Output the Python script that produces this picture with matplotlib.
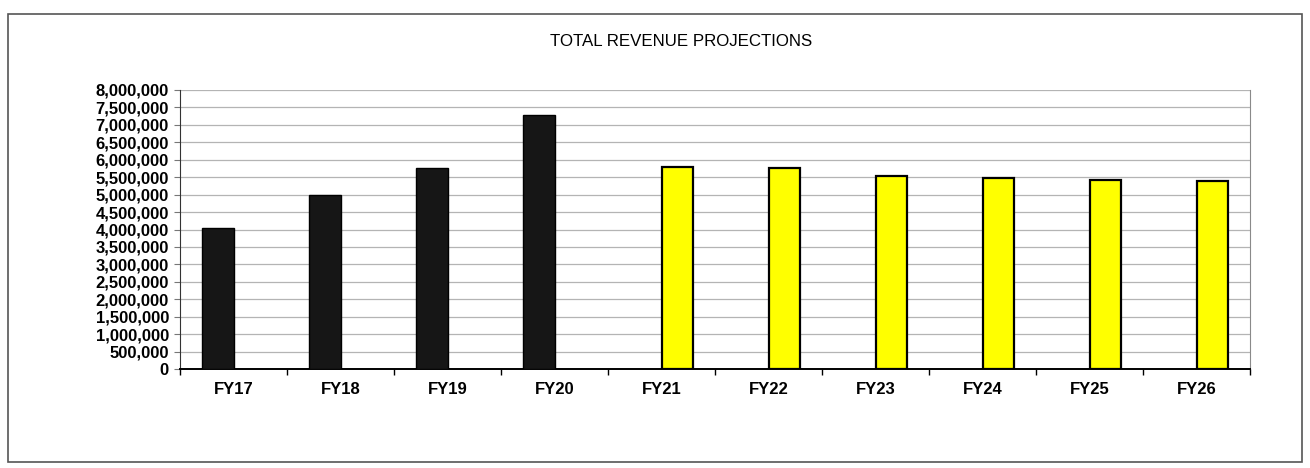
import matplotlib.pyplot as plt
import numpy as np
from matplotlib.patches import Rectangle
from matplotlib.ticker import FuncFormatter, MultipleLocator

plt.rcParams['font.family'] = ['Liberation Sans', 'DejaVu Sans']

# fiscal years, actuals then projections
years = ['FY17', 'FY18', 'FY19', 'FY20', 'FY21', 'FY22', 'FY23', 'FY24', 'FY25', 'FY26']
actual = [4030000, 5000000, 5750000, 7270000, np.nan, np.nan, np.nan, np.nan, np.nan, np.nan]
projected = [np.nan, np.nan, np.nan, np.nan, 5780000, 5750000, 5520000, 5470000, 5430000, 5390000]

fig = plt.figure(figsize=(13.1, 4.68), dpi=100)

# outer frame around the chart
fig.patches.append(Rectangle((8 / 1310, 1 - 462 / 468), 1294 / 1310, 448 / 468,
                             transform=fig.transFigure, fill=False,
                             edgecolor='#555555', linewidth=1.2))

ax = fig.add_axes([180 / 1310, 1 - 369 / 468, 1070 / 1310, 279 / 468])

x = np.arange(len(years))
w = 0.29
ax.bar(x - w / 2, actual, width=w, color='#161616', edgecolor='black', linewidth=1, zorder=3)
ax.bar(x + w / 2, projected, width=w, color='#ffff00', edgecolor='black', linewidth=1.6, zorder=3)

ax.set_xlim(-0.5, len(years) - 0.5)
ax.set_ylim(0, 8000000)
ax.yaxis.set_major_locator(MultipleLocator(500000))
ax.yaxis.set_major_formatter(FuncFormatter(lambda v, p: f'{int(v):,}'))
ax.grid(axis='y', color='#b4b4b4', linewidth=0.9, zorder=0)

ax.set_xticks(x)
ax.set_xticklabels(years)
ax.set_xticks(np.arange(len(years) + 1) - 0.5, minor=True)
ax.tick_params(axis='x', which='major', length=0, pad=9, labelsize=12)
ax.tick_params(axis='x', which='minor', length=4, width=1, color='black', direction='out')
ax.tick_params(axis='y', length=4, width=0.8, color='#777777', labelsize=12, pad=4)
for lab in ax.get_xticklabels() + ax.get_yticklabels():
    lab.set_fontweight('bold')

ax.spines['top'].set_visible(False)
ax.spines['right'].set_color('#8a8a8a')
ax.spines['left'].set_color('#333333')
ax.spines['bottom'].set_linewidth(1.4)

fig.text(0.52, 1 - 42 / 468, 'TOTAL REVENUE PROJECTIONS', ha='center', va='center', fontsize=12.2)

fig.savefig('out.png', dpi=100)
